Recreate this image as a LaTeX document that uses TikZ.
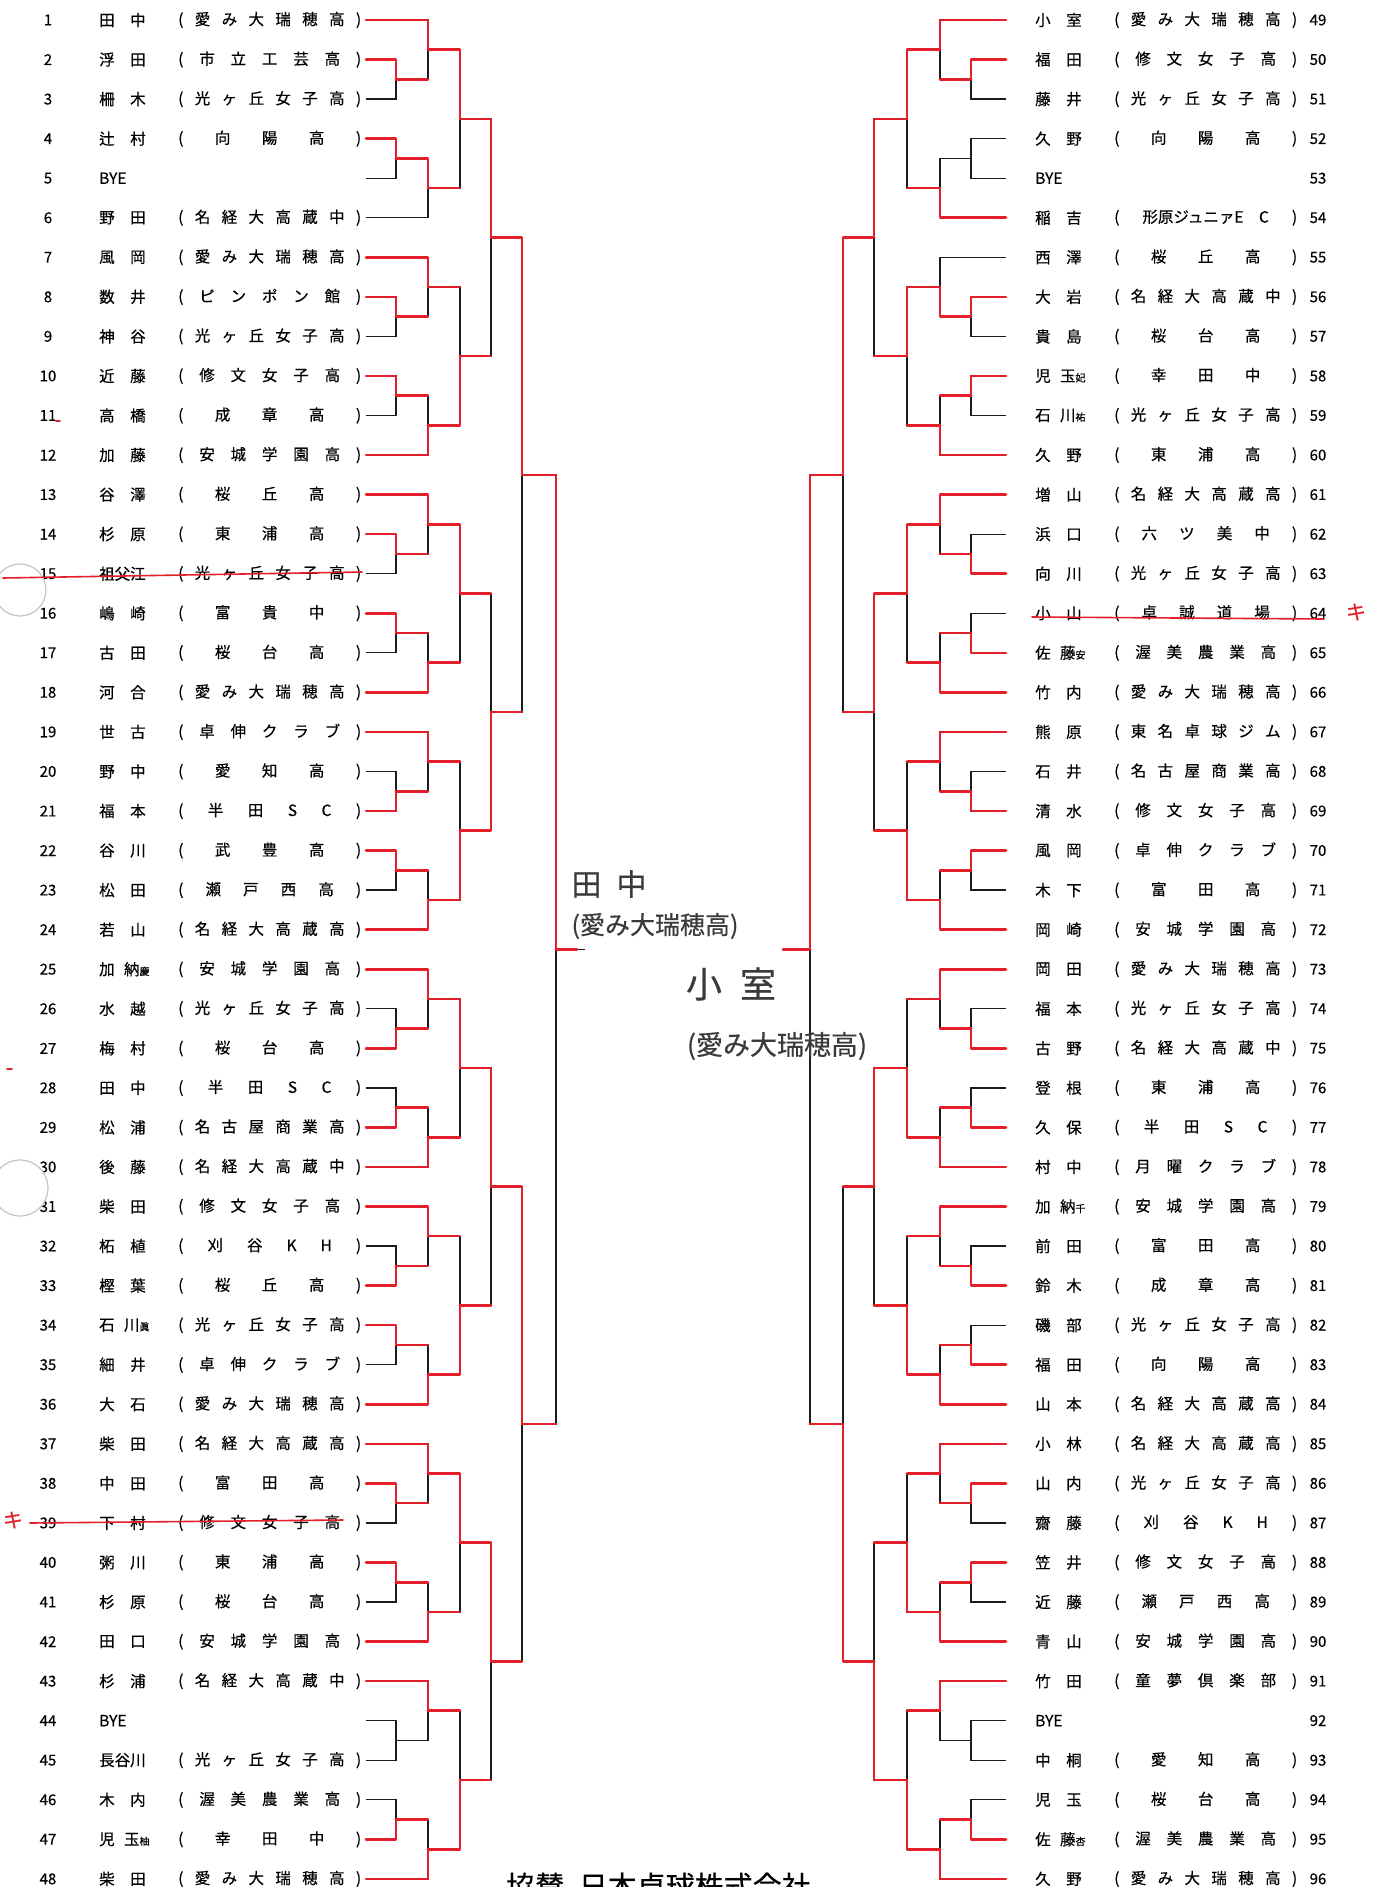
\documentclass[tikz,border=0pt]{standalone}
\usepackage{fontspec}
\setmainfont{Noto Sans CJK JP}[FakeBold=0.4]
\usetikzlibrary{calc}
\definecolor{Ink}{HTML}{1C1C1C}
\definecolor{Pen}{HTML}{E3202A}
\definecolor{Pencil}{HTML}{3A3A3A}
\definecolor{Hole}{HTML}{C4C4C4}
\newcommand\fs[1]{\fontsize{#1}{#1}\selectfont}
\newcommand\pair[2]{#1\hspace{1em}#2}
\newcommand\pairx[3]{#1\hspace{.6em}#2{\fs{10}#3}}
\newcommand\katahara{形原ジュニァE\hspace{1em}C}
\def\spreadit#1{\ifx\relax#1\hfil\else\hfil\hbox{#1}\expandafter\spreadit\fi}
\newcommand\clubbox[1]{\hbox to 183pt{(\expandafter\spreadit#1\relax)}}
\tikzset{
  tie/.style={draw=Ink,line width=1.3pt},
  win/.style={draw=Pen,line width=2.6pt,line cap=round,line join=round},
  strike/.style={draw=Pen,line width=1.6pt,line cap=round},
  numtag/.style={font=\fs{15},inner sep=0pt},
  nametag/.style={font=\fs{15.5},inner sep=0pt,anchor=west},
  clubtag/.style={font=\fs{15.5},inner sep=0pt,anchor=west},
  handtag/.style={text=Pencil,inner sep=0pt},
  hole/.style={fill=white,draw=Hole,line width=1.2pt}
}
% one match: name, upper entry, lower entry, level, winner (t/b/n)
\newcommand\game[5]{%
  \coordinate (#1m) at ($(#2)!.5!(#3)$);
  \coordinate (#1) at (#1m -| #4);
  \draw[tie] (#2) -- (#2 -| #1) -- (#3 -| #1) -- (#3);
  \if t#5\draw[win] (#2) -- (#2 -| #1) -- (#1);%
  \else\ifcsname hot@#2\endcsname\draw[win] (#2) -- (#2 -| #1);\fi\fi
  \if b#5\draw[win] (#3) -- (#3 -| #1) -- (#1);%
  \else\ifcsname hot@#3\endcsname\draw[win] (#3) -- (#3 -| #1);\fi\fi
  \if n#5\else\expandafter\gdef\csname hot@#1\endcsname{}\fi
}

\begin{document}
\begin{tikzpicture}[x=1pt,y=-1pt]
  \useasboundingbox (0,0) rectangle (1374,1887);
  \foreach \n/\x in {0/366,1/396,2/428,3/460,4/491,5/522,6/556} \coordinate (l\n) at (\x,0);
  \foreach \n/\x in {0/1006,1/971,2/940,3/907,4/874,5/843,6/810} \coordinate (r\n) at (\x,0);

  % left half
  \foreach \idx/\who/\clb in {1/\pair{田}{中}/愛み大瑞穂高, 2/\pair{浮}{田}/市立工芸高,
      3/\pair{柵}{木}/光ヶ丘女子高, 4/\pair{辻}{村}/向陽高, 5/BYE/-, 6/\pair{野}{田}/名経大高蔵中,
      7/\pair{風}{岡}/愛み大瑞穂高, 8/\pair{数}{井}/ピンポン館, 9/\pair{神}{谷}/光ヶ丘女子高,
      10/\pair{近}{藤}/修文女子高, 11/\pair{高}{橋}/成章高, 12/\pair{加}{藤}/安城学園高,
      13/\pair{谷}{澤}/桜丘高, 14/\pair{杉}{原}/東浦高, 15/祖父江/光ヶ丘女子高,
      16/\pair{嶋}{崎}/富貴中, 17/\pair{古}{田}/桜台高, 18/\pair{河}{合}/愛み大瑞穂高,
      19/\pair{世}{古}/卓伸クラブ, 20/\pair{野}{中}/愛知高, 21/\pair{福}{本}/半田SC,
      22/\pair{谷}{川}/武豊高, 23/\pair{松}{田}/瀬戸西高, 24/\pair{若}{山}/名経大高蔵高,
      25/\pairx{加}{納}{慶}/安城学園高, 26/\pair{水}{越}/光ヶ丘女子高, 27/\pair{梅}{村}/桜台高,
      28/\pair{田}{中}/半田SC, 29/\pair{松}{浦}/名古屋商業高, 30/\pair{後}{藤}/名経大高蔵中,
      31/\pair{柴}{田}/修文女子高, 32/\pair{柘}{植}/刈谷KH, 33/\pair{樫}{葉}/桜丘高,
      34/\pairx{石}{川}{眞}/光ヶ丘女子高, 35/\pair{細}{井}/卓伸クラブ, 36/\pair{大}{石}/愛み大瑞穂高,
      37/\pair{柴}{田}/名経大高蔵高, 38/\pair{中}{田}/富田高, 39/\pair{下}{村}/修文女子高,
      40/\pair{粥}{川}/東浦高, 41/\pair{杉}{原}/桜台高, 42/\pair{田}{口}/安城学園高,
      43/\pair{杉}{浦}/名経大高蔵中, 44/BYE/-, 45/長谷川/光ヶ丘女子高,
      46/\pair{木}{内}/渥美農業高, 47/\pairx{児}{玉}{柚}/幸田中, 48/\pair{柴}{田}/愛み大瑞穂高}{
    \pgfmathsetmacro\yy{20+(\idx-1)*39.55}
    \node[numtag] (no\idx) at (48,\yy) {\idx};
    \node[nametag] (pl\idx) at (99,\yy) {\who};
    \if-\clb\else\node[clubtag] (cl\idx) at (178,\yy) {\clubbox{\clb}};\fi
    \coordinate (p\idx) at (l0 |- 0,\yy);
  }

  % right half
  \foreach \idx/\who/\clb in {49/\pair{小}{室}/愛み大瑞穂高, 50/\pair{福}{田}/修文女子高,
      51/\pair{藤}{井}/光ヶ丘女子高, 52/\pair{久}{野}/向陽高, 53/BYE/-, 54/\pair{稲}{吉}/\katahara,
      55/\pair{西}{澤}/桜丘高, 56/\pair{大}{岩}/名経大高蔵中, 57/\pair{貴}{島}/桜台高,
      58/\pairx{児}{玉}{妃}/幸田中, 59/\pairx{石}{川}{祐}/光ヶ丘女子高, 60/\pair{久}{野}/東浦高,
      61/\pair{増}{山}/名経大高蔵高, 62/\pair{浜}{口}/六ツ美中, 63/\pair{向}{川}/光ヶ丘女子高,
      64/\pair{小}{山}/卓誠道場, 65/\pairx{佐}{藤}{安}/渥美農業高, 66/\pair{竹}{内}/愛み大瑞穂高,
      67/\pair{熊}{原}/東名卓球ジム, 68/\pair{石}{井}/名古屋商業高, 69/\pair{清}{水}/修文女子高,
      70/\pair{風}{岡}/卓伸クラブ, 71/\pair{木}{下}/富田高, 72/\pair{岡}{崎}/安城学園高,
      73/\pair{岡}{田}/愛み大瑞穂高, 74/\pair{福}{本}/光ヶ丘女子高, 75/\pair{古}{野}/名経大高蔵中,
      76/\pair{登}{根}/東浦高, 77/\pair{久}{保}/半田SC, 78/\pair{村}{中}/月曜クラブ,
      79/\pairx{加}{納}{千}/安城学園高, 80/\pair{前}{田}/富田高, 81/\pair{鈴}{木}/成章高,
      82/\pair{磯}{部}/光ヶ丘女子高, 83/\pair{福}{田}/向陽高, 84/\pair{山}{本}/名経大高蔵高,
      85/\pair{小}{林}/名経大高蔵高, 86/\pair{山}{内}/光ヶ丘女子高, 87/\pair{齋}{藤}/刈谷KH,
      88/\pair{笠}{井}/修文女子高, 89/\pair{近}{藤}/瀬戸西高, 90/\pair{青}{山}/安城学園高,
      91/\pair{竹}{田}/童夢倶楽部, 92/BYE/-, 93/\pair{中}{桐}/愛知高,
      94/\pair{児}{玉}/桜台高, 95/\pairx{佐}{藤}{杏}/渥美農業高, 96/\pair{久}{野}/愛み大瑞穂高}{
    \pgfmathsetmacro\yy{20+(\idx-49)*39.55}
    \node[numtag] (no\idx) at (1318,\yy) {\idx};
    \node[nametag] (pl\idx) at (1035,\yy) {\who};
    \if-\clb\else\node[clubtag] (cl\idx) at (1114,\yy) {\clubbox{\clb}};\fi
    \coordinate (p\idx) at (r0 |- 0,\yy);
  }

  % groups of six
  \foreach \side/\grp/\st/\wA/\wB/\wC/\wD/\wE in {
      l/A/1/t/t/t/t/t, l/B/7/t/t/t/b/b, l/C/13/t/t/t/b/t, l/D/19/b/t/t/b/b,
      l/E/25/b/t/b/b/t, l/F/31/b/t/t/b/b, l/G/37/t/t/t/b/t, l/H/43/n/t/b/b/b,
      r/I/49/t/t/n/b/t, r/J/55/t/b/t/b/t, r/K/61/b/t/b/b/t, r/L/67/b/t/t/b/b,
      r/M/73/b/t/b/b/b, r/N/79/b/t/b/b/b, r/O/85/t/t/t/b/b, r/P/91/n/t/b/b/b}{
    \pgfmathtruncatemacro\qb{\st+1}
    \pgfmathtruncatemacro\qc{\st+2}
    \pgfmathtruncatemacro\qd{\st+3}
    \pgfmathtruncatemacro\qe{\st+4}
    \pgfmathtruncatemacro\qf{\st+5}
    \game{\grp a}{p\qb}{p\qc}{\side1}{\wA}
    \game{\grp b}{p\st}{\grp a}{\side2}{\wB}
    \game{\grp c}{p\qd}{p\qe}{\side1}{\wC}
    \game{\grp d}{\grp c}{p\qf}{\side2}{\wD}
    \game{\grp e}{\grp b}{\grp d}{\side3}{\wE}
  }

  \game{AB}{Ae}{Be}{l4}{t}
  \game{CD}{Ce}{De}{l4}{b}
  \game{EF}{Ee}{Fe}{l4}{t}
  \game{GH}{Ge}{He}{l4}{t}
  \game{AD}{AB}{CD}{l5}{t}
  \game{EH}{EF}{GH}{l5}{t}
  \game{LW}{AD}{EH}{l6}{t}
  \game{IJ}{Ie}{Je}{r4}{t}
  \game{KL}{Ke}{Le}{r4}{t}
  \game{MN}{Me}{Ne}{r4}{t}
  \game{OP}{Oe}{Pe}{r4}{b}
  \game{IL}{IJ}{KL}{r5}{t}
  \game{MP}{MN}{OP}{r5}{b}
  \game{RW}{IL}{MP}{r6}{t}

  \coordinate (lend) at (585,0);
  \coordinate (lred) at (577,0);
  \coordinate (rend) at (783,0);
  \draw[tie] (LW) -- (LW -| lend);
  \draw[win] (LW) -- (LW -| lred);
  \draw[tie] (RW) -- (RW -| rend);
  \draw[win] (RW) -- (RW -| rend);

  % handwritten results
  \node[handtag,font=\fs{30}] (lwinner) at (609,884) {田\hspace{.5em}中};
  \node[handtag,font=\fs{25}] (lclub) at (655,926) {(愛み大瑞穂高)};
  \node[handtag,font=\fs{36}] (rwinner) at (731,984) {小\hspace{.5em}室};
  \node[handtag,font=\fs{27}] (rclub) at (777,1046) {(愛み大瑞穂高)};

  \node[font=\fs{29},anchor=base west,inner sep=0pt] (sponsor) at (506,1897) {協賛\hspace{.5em}日本卓球株式会社};

  % punch holes and pen marks
  \draw[hole] (20,590) circle (26);
  \draw[hole] (20,1188) circle (28);
  \draw[strike] (3,578) -- (362,572);
  \draw[strike] (30,1523) -- (343,1520);
  \draw[strike] (1032,617) -- (1324,619);
  \draw[strike] (56,421) -- (60,421);
  \draw[strike] (7,1069) -- (12,1069);
  \node[text=Pen,font=\fs{20}] (kleft) at (13,1520) {キ};
  \node[text=Pen,font=\fs{20}] (kright) at (1356,612) {キ};
\end{tikzpicture}
\end{document}
